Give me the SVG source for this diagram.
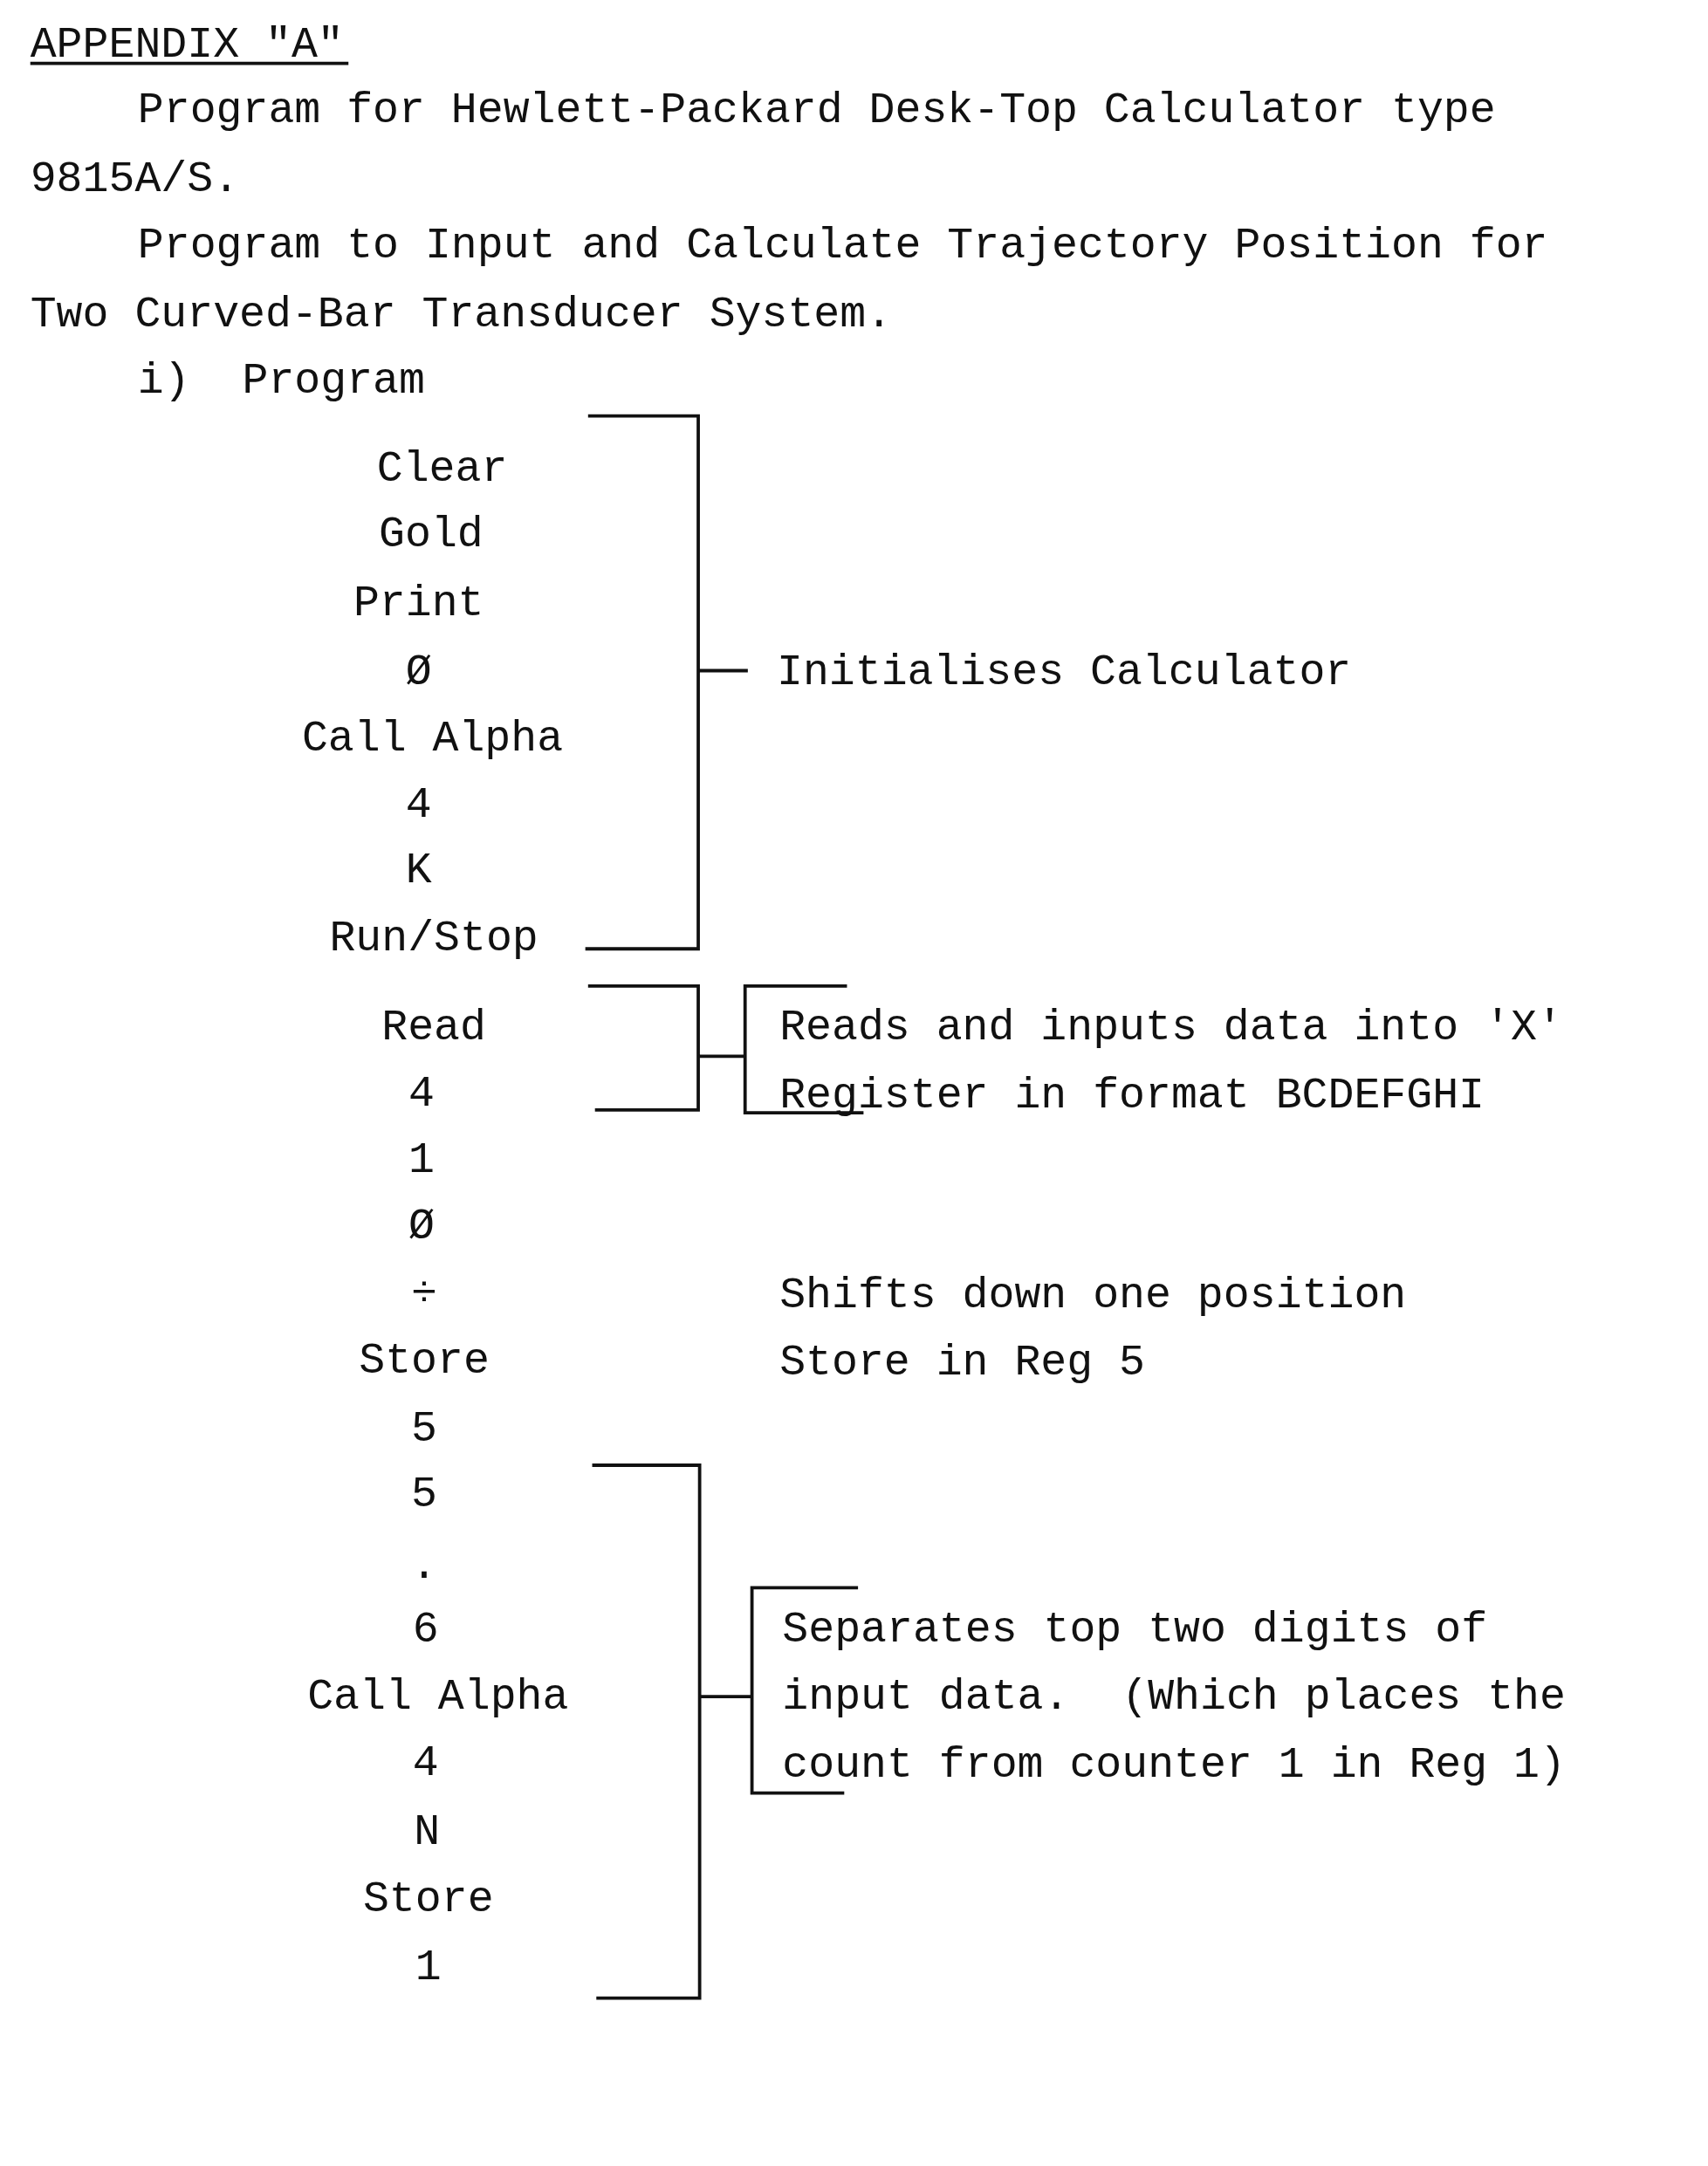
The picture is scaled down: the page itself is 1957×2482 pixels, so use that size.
<svg xmlns="http://www.w3.org/2000/svg" width="1957" height="2482" viewBox="0 0 1957 2482">
<style>
text{font-family:"Liberation Mono","DejaVu Sans Mono",monospace;font-size:31.6px;fill:#111;white-space:pre}
.c{text-anchor:middle}
.b{fill:none;stroke:#111;stroke-width:2.4}
</style>
<rect width="1957" height="2482" fill="#fff"/>
<g transform="scale(1.578)">
<g id="header">
<text x="22" y="41">APPENDIX "A"</text>
<line x1="22" y1="46" x2="253" y2="46" class="b"/>
<text x="100" y="89">Program for Hewlett-Packard Desk-Top Calculator type</text>
<text x="22" y="139">9815A/S.</text>
<text x="100" y="187">Program to Input and Calculate Trajectory Position for</text>
<text x="22" y="237">Two Curved-Bar Transducer System.</text>
<text x="100" y="285">i)  Program</text>
</g>
<g id="steps" class="c">
<text x="321" y="349">Clear</text>
<text x="313" y="397">Gold</text>
<text x="304" y="447">Print</text>
<text x="304" y="497">Ø</text>
<text x="314" y="545">Call Alpha</text>
<text x="304" y="593">4</text>
<text x="304" y="641">K</text>
<text x="315" y="690">Run/Stop</text>
<text x="315" y="755">Read</text>
<text x="306" y="803">4</text>
<text x="306" y="851">1</text>
<text x="306" y="899">Ø</text>
<text x="308" y="948">÷</text>
<text x="308" y="997">Store</text>
<text x="308" y="1046">5</text>
<text x="308" y="1094">5</text>
<text x="308" y="1146">.</text>
<text x="309" y="1192">6</text>
<text x="318" y="1241">Call Alpha</text>
<text x="309" y="1289">4</text>
<text x="310" y="1339">N</text>
<text x="311" y="1388">Store</text>
<text x="311" y="1437">1</text>
</g>
<g id="connectors">
<path class="b" d="M427 302H507V689H425M507 487H543"/>
<path class="b" d="M427 716H507V806H432M507 767H541M615 716H541V808H627"/>
<path class="b" d="M430 1064H508V1451H433M508 1232H546M623 1153H546V1302H613"/>
</g>
<g id="labels">
<text x="564" y="497">Initialises Calculator</text>
<text x="566" y="755">Reads and inputs data into 'X'</text>
<text x="566" y="804">Register in format BCDEFGHI</text>
<text x="566" y="949">Shifts down one position</text>
<text x="566" y="998">Store in Reg 5</text>
<text x="568" y="1192">Separates top two digits of</text>
<text x="568" y="1241">input data.  (Which places the</text>
<text x="568" y="1290">count from counter 1 in Reg 1)</text>
</g>
</g>
</svg>
